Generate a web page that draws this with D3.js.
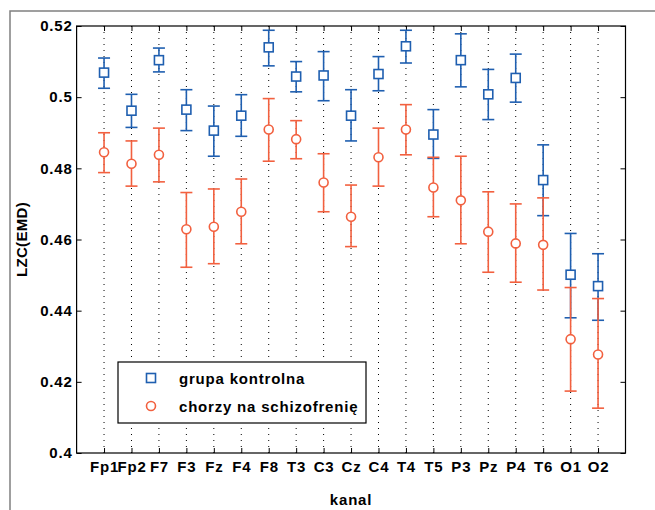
<!DOCTYPE html>
<html><head><meta charset="utf-8">
<script src="https://cdn.jsdelivr.net/npm/d3@7"></script>
<style>body{margin:0;background:#fff}svg{display:block}</style>
</head><body><svg id="c" width="655" height="510"></svg>
<script>
const channels = ["Fp1","Fp2","F7","F3","Fz","F4","F8","T3","C3","Cz","C4","T4","T5","P3","Pz","P4","T6","O1","O2"];
const controlMean = [0.5069,0.4962,0.5104,0.4965,0.4906,0.4948,0.5140,0.5058,0.5061,0.4948,0.5065,0.5143,0.4895,0.5104,0.5008,0.5054,0.4767,0.4501,0.4469];
const controlLow  = [0.5025,0.4915,0.5071,0.4906,0.4834,0.4890,0.5088,0.5015,0.4990,0.4877,0.5018,0.5096,0.4828,0.5029,0.4937,0.4986,0.4667,0.4380,0.4373];
const controlHigh = [0.5110,0.5008,0.5138,0.5021,0.4975,0.5007,0.5188,0.5100,0.5128,0.5021,0.5114,0.5188,0.4965,0.5178,0.5078,0.5121,0.4866,0.4617,0.4560];
const patientMean = [0.4845,0.4813,0.4838,0.4629,0.4636,0.4678,0.4909,0.4882,0.4760,0.4664,0.4831,0.4909,0.4746,0.4710,0.4622,0.4589,0.4585,0.4320,0.4277];
const patientLow  = [0.4788,0.4750,0.4762,0.4522,0.4532,0.4588,0.4820,0.4827,0.4678,0.4580,0.4750,0.4838,0.4664,0.4588,0.4508,0.4480,0.4458,0.4174,0.4126];
const patientHigh = [0.4900,0.4877,0.4913,0.4732,0.4742,0.4770,0.4996,0.4934,0.4841,0.4753,0.4913,0.4979,0.4831,0.4834,0.4734,0.4700,0.4717,0.4465,0.4434];
const yTicks = [0.4,0.42,0.44,0.46,0.48,0.5,0.52];
const legendLabels = ["grupa kontrolna","chorzy na schizofrenię"];

const BLUE = "#1f5fb0", RED = "#f2603f";
const FONT = "'Liberation Sans', Arial, Helvetica, sans-serif";
const FS = 15, LS = "0.8px";
const svg = d3.select("#c");
const L = 76.6, R = 625.5, T = 26, B = 453;
const x = d3.scaleLinear().domain([0, channels.length + 1]).range([L, R]);
const y = d3.scaleLinear().domain([0.4, 0.52]).range([B, T]);

// outer frame
svg.append("path").attr("d", "M10,510V11H655").attr("fill","none").attr("stroke","#808080").attr("stroke-width",1.5);

// dotted verticals
const idx = d3.range(1, channels.length + 1);
svg.append("g").selectAll("line").data(idx).join("line")
  .attr("x1", d => x(d)).attr("x2", d => x(d)).attr("y1", T).attr("y2", B)
  .attr("stroke", "#000").attr("stroke-width", 1).attr("stroke-dasharray", "1,5");

// axes
const ax = (g) => g.call(s => s.select(".domain").remove());
svg.append("g").attr("transform", `translate(0,${B})`)
  .call(d3.axisBottom(x).tickValues(idx).tickFormat(i => channels[i-1]).tickSize(-5).tickPadding(8))
  .call(ax);
svg.append("g").attr("transform", `translate(0,${T})`)
  .call(d3.axisTop(x).tickValues(idx).tickFormat("").tickSize(-5)).call(ax);
svg.append("g").attr("transform", `translate(${L},0)`)
  .call(d3.axisLeft(y).tickValues(yTicks).tickFormat(d => String(+d.toFixed(2))).tickSize(-5).tickPadding(4))
  .call(ax);
svg.append("g").attr("transform", `translate(${R},0)`)
  .call(d3.axisRight(y).tickValues(yTicks).tickFormat("").tickSize(-5)).call(ax);
svg.selectAll(".tick text").attr("font-family", FONT).attr("font-size", FS).attr("font-weight", "bold")
  .attr("letter-spacing", LS).attr("fill", "#000");
svg.selectAll(".tick line").attr("stroke", "#000");

svg.append("rect").attr("x", L).attr("y", T).attr("width", R - L).attr("height", B - T)
  .attr("fill", "none").attr("stroke", "#000").attr("stroke-width", 1.2);

// error bars
function series(mean, low, high, color, shape) {
  const g = svg.append("g").attr("stroke", color).attr("fill", "none").attr("stroke-width", 1.6);
  const data = mean.map((m, i) => ({i: i + 1, m, lo: low[i], hi: high[i]}));
  g.selectAll(".v").data(data).join("line").attr("x1", d => x(d.i)).attr("x2", d => x(d.i))
    .attr("y1", d => y(d.lo)).attr("y2", d => y(d.hi));
  g.selectAll(".t").data(data).join("line").attr("x1", d => x(d.i) - 6).attr("x2", d => x(d.i) + 6)
    .attr("y1", d => y(d.hi)).attr("y2", d => y(d.hi));
  g.selectAll(".b").data(data).join("line").attr("x1", d => x(d.i) - 6).attr("x2", d => x(d.i) + 6)
    .attr("y1", d => y(d.lo)).attr("y2", d => y(d.lo));
  if (shape === "square") {
    g.selectAll(".m").data(data).join("rect").attr("x", d => x(d.i) - 4.5).attr("y", d => y(d.m) - 4.5)
      .attr("width", 9).attr("height", 9).attr("fill", "#fff");
  } else {
    g.selectAll(".m").data(data).join("circle").attr("cx", d => x(d.i)).attr("cy", d => y(d.m))
      .attr("r", 4.5).attr("fill", "#fff");
  }
}
series(controlMean, controlLow, controlHigh, BLUE, "square");
series(patientMean, patientLow, patientHigh, RED, "circle");

// axis titles
svg.append("text").attr("x", (L + R) / 2).attr("y", 505).attr("text-anchor", "middle")
  .attr("font-family", FONT).attr("font-size", FS).attr("font-weight", "bold").attr("letter-spacing", LS).text("kanal");
svg.append("text").attr("transform", `translate(27,${(T + B) / 2}) rotate(-90)`).attr("text-anchor", "middle")
  .attr("font-family", FONT).attr("font-size", FS).attr("font-weight", "bold").attr("letter-spacing", "0.3px").text("LZC(EMD)");

// legend
const lg = svg.append("g");
lg.append("rect").attr("x", 118).attr("y", 362).attr("width", 248).attr("height", 61)
  .attr("fill", "#fff").attr("stroke", "#000").attr("stroke-width", 1.2);
lg.append("rect").attr("x", 151 - 4.5).attr("y", 378 - 4.5).attr("width", 9).attr("height", 9)
  .attr("fill", "#fff").attr("stroke", BLUE).attr("stroke-width", 1.6);
lg.append("circle").attr("cx", 151).attr("cy", 406).attr("r", 4.5)
  .attr("fill", "#fff").attr("stroke", RED).attr("stroke-width", 1.6);
lg.selectAll("text").data(legendLabels).join("text").attr("x", 179).attr("y", (d, i) => 384 + i * 28)
  .attr("font-family", FONT).attr("font-size", FS).attr("font-weight", "bold").attr("letter-spacing", LS).text(d => d);
</script></body></html>
